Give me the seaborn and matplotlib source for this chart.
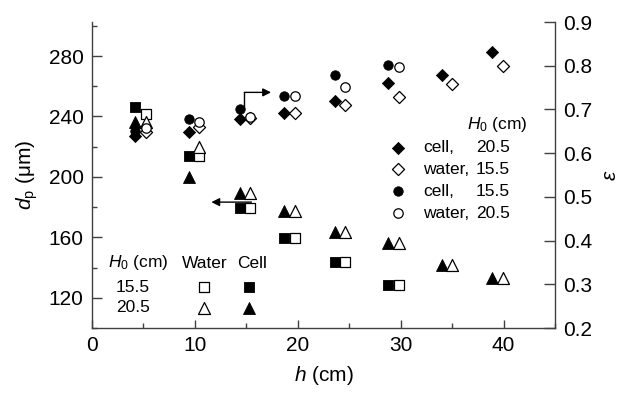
import numpy as np
import pandas as pd
import matplotlib
matplotlib.use("Agg")
import matplotlib.pyplot as plt
from matplotlib.ticker import MultipleLocator
import seaborn as sns

# ---------------- data ----------------
h_filled = [4.2, 9.4, 14.4, 18.7, 23.6, 28.8, 34.0, 38.9]
h_open = [5.2, 10.4, 15.4, 19.7, 24.6, 29.8, 35.0, 39.9]

dp_cell_155 = [246.5, 214.0, 179.7, 159.5, 144.0, 128.6]      # filled squares
dp_water_155 = [241.7, 214.0, 179.7, 159.5, 144.0, 128.6]     # open squares
dp_cell_205 = [236.6, 200.2, 189.2, 177.7, 163.8, 156.1, 141.8, 133.0]  # filled triangles
dp_water_205 = [236.6, 219.6, 189.2, 177.7, 163.8, 156.1, 141.8, 133.0] # open triangles

eps_cell_205 = [0.639, 0.649, 0.678, 0.691, 0.720, 0.760, 0.779, 0.831]   # filled diamonds
eps_water_155 = [0.649, 0.660, 0.680, 0.691, 0.710, 0.729, 0.758, 0.799]  # open diamonds
eps_cell_155 = [0.650, 0.678, 0.702, 0.731, 0.779, 0.802]                # filled circles
eps_water_205 = [0.657, 0.672, 0.683, 0.731, 0.752, 0.796]               # open circles

x_ticks = [0, 10, 20, 30, 40]
left_ticks = [120, 160, 200, 240, 280]
right_ticks = [0.2, 0.3, 0.4, 0.5, 0.6, 0.7, 0.8, 0.9]
right_tick_labels = ["0.2", "0.3", "0.4", "0.5", "0.6", "0.7", "0.8", "0.9"]

legend_labels_top = [("cell,", "20.5"), ("water,", "15.5"), ("cell,", "15.5"), ("water,", "20.5")]
legend_rows_bottom = ["15.5", "20.5"]

# ---------------- style ----------------
sns.set_style("ticks")
plt.rcParams["font.family"] = ["Liberation Sans", "DejaVu Sans"]
plt.rcParams["mathtext.fontset"] = "custom"
plt.rcParams["mathtext.rm"] = "Liberation Sans"
plt.rcParams["mathtext.it"] = "Liberation Sans:italic"
plt.rcParams["mathtext.bf"] = "Liberation Sans:bold"
plt.rcParams["text.color"] = "black"
plt.rcParams["axes.labelcolor"] = "black"

W, H = 623, 400
L, R, T, B = 92, 555, 22, 328
fig = plt.figure(figsize=(W / 100, H / 100), dpi=100)
ax = fig.add_axes([L / W, (H - B) / H, (R - L) / W, (B - T) / H])
ax2 = ax.twinx()

def axfrac(px, py):
    return (px - L) / (R - L), (B - py) / (B - T)

sz = {"s": 44, "^": 74, "o": 46, "D": 38}

def draw(axis, x, y, marker, filled):
    df = pd.DataFrame({"h": x[:len(y)], "v": y})
    if filled:
        sns.scatterplot(data=df, x="h", y="v", ax=axis, marker=marker, s=sz[marker],
                        color="black", edgecolor="black", linewidth=0.6, zorder=3)
    else:
        sns.scatterplot(data=df, x="h", y="v", ax=axis, marker=marker, s=sz[marker],
                        facecolor="white", edgecolor="black", linewidth=0.9, zorder=3)

draw(ax, h_filled, dp_cell_155, "s", True)
draw(ax, h_open, dp_water_155, "s", False)
draw(ax, h_filled, dp_cell_205, "^", True)
draw(ax, h_open, dp_water_205, "^", False)

draw(ax2, h_filled, eps_cell_205, "D", True)
draw(ax2, h_open, eps_water_155, "D", False)
draw(ax2, h_filled, eps_cell_155, "o", True)
draw(ax2, h_open, eps_water_205, "o", False)

# ---------------- axes ----------------
spine_c = "#404040"
ax.set_xlim(0, 45)
ax.set_ylim(100, 302.5)
ax2.set_ylim(0.2, 0.9)
ax.set_xticks(x_ticks)
ax.set_xticklabels([str(v) for v in x_ticks])
ax.xaxis.set_minor_locator(MultipleLocator(5))
ax.set_yticks(left_ticks)
ax.set_yticklabels([str(v) for v in left_ticks])
ax.yaxis.set_minor_locator(MultipleLocator(20))
ax2.set_yticks(right_ticks)
ax2.set_yticklabels(right_tick_labels)

for a in (ax, ax2):
    a.spines["top"].set_visible(False)
    for sp in a.spines.values():
        sp.set_color(spine_c)
        sp.set_linewidth(1.0)
ax.spines["right"].set_visible(False)
ax2.spines["left"].set_visible(False)
ax2.spines["bottom"].set_visible(False)

ax.tick_params(axis="both", which="major", direction="in", length=7, width=1,
               color=spine_c, labelcolor="black", labelsize=15, pad=6)
ax.tick_params(axis="both", which="minor", direction="in", length=3.5, width=1, color=spine_c)
ax.tick_params(axis="x", which="major", length=6)
ax2.tick_params(axis="y", which="major", direction="in", length=8, width=1,
                color=spine_c, labelcolor="black", labelsize=15, pad=6)
ax2.tick_params(axis="y", which="minor", length=0)

ax.set_xlabel("$h$ (cm)", fontsize=15, labelpad=6)
ax.set_ylabel("$d_\\mathrm{p}$ (\u03bcm)", fontsize=15, labelpad=6)
ax2.set_ylabel("$\\varepsilon$", fontsize=15, labelpad=6)

# ---------------- arrows ----------------
ax2.plot([14.8, 14.8], [0.700, 0.739], color="black", lw=1.0, zorder=2)
ax2.annotate("", xy=(17.4, 0.739), xytext=(14.8, 0.739),
             arrowprops=dict(arrowstyle="-|>", color="black", lw=1.0,
                             mutation_scale=12, shrinkA=0, shrinkB=0))
ax.annotate("", xy=(11.6, 183.3), xytext=(15.5, 183.3),
            arrowprops=dict(arrowstyle="-|>", color="black", lw=1.0,
                            mutation_scale=12, shrinkA=0, shrinkB=0))

# ---------------- top-right legend ----------------
fs_leg = 12.5
tx, ty = axfrac(527, 125)
ax2.text(tx, ty, "$H_0$ (cm)", transform=ax2.transAxes, ha="right", va="center", fontsize=fs_leg)
leg_markers = [("D", True), ("D", False), ("o", True), ("o", False)]
rows_y = [148, 169, 191, 213]
for (mk, filled), (word, num), py in zip(leg_markers, legend_labels_top, rows_y):
    mx, my = axfrac(398, py)
    ax2.scatter([mx], [my], transform=ax2.transAxes, marker=mk, s=sz[mk],
                facecolor="black" if filled else "white", edgecolor="black",
                linewidth=0.6 if filled else 0.9, clip_on=False, zorder=4)
    wx, wy = axfrac(423, py)
    ax2.text(wx, wy, word, transform=ax2.transAxes, ha="left", va="center", fontsize=fs_leg)
    nx, _ = axfrac(510, py)
    ax2.text(nx, wy, num, transform=ax2.transAxes, ha="right", va="center", fontsize=fs_leg)

# ---------------- bottom-left legend ----------------
hx, hy = axfrac(108, 263)
ax.text(hx, hy, "$H_0$ (cm)", transform=ax.transAxes, ha="left", va="center", fontsize=fs_leg)
wx, _ = axfrac(204.5, 263)
ax.text(wx, hy, "Water", transform=ax.transAxes, ha="center", va="center", fontsize=fs_leg)
cx, _ = axfrac(252.5, 263)
ax.text(cx, hy, "Cell", transform=ax.transAxes, ha="center", va="center", fontsize=fs_leg)
for lab, py, mk in zip(legend_rows_bottom, [287, 308], ["s", "^"]):
    lx, ly = axfrac(133, py)
    ax.text(lx, ly, lab, transform=ax.transAxes, ha="center", va="center", fontsize=fs_leg)
    ox, oy = axfrac(204.3, py)
    ax.scatter([ox], [oy], transform=ax.transAxes, marker=mk, s=sz[mk],
               facecolor="white", edgecolor="black", linewidth=0.9, zorder=4)
    fx, fy = axfrac(249.3, py)
    ax.scatter([fx], [fy], transform=ax.transAxes, marker=mk, s=sz[mk],
               facecolor="black", edgecolor="black", linewidth=0.6, zorder=4)

fig.savefig("out.png", dpi=100)
